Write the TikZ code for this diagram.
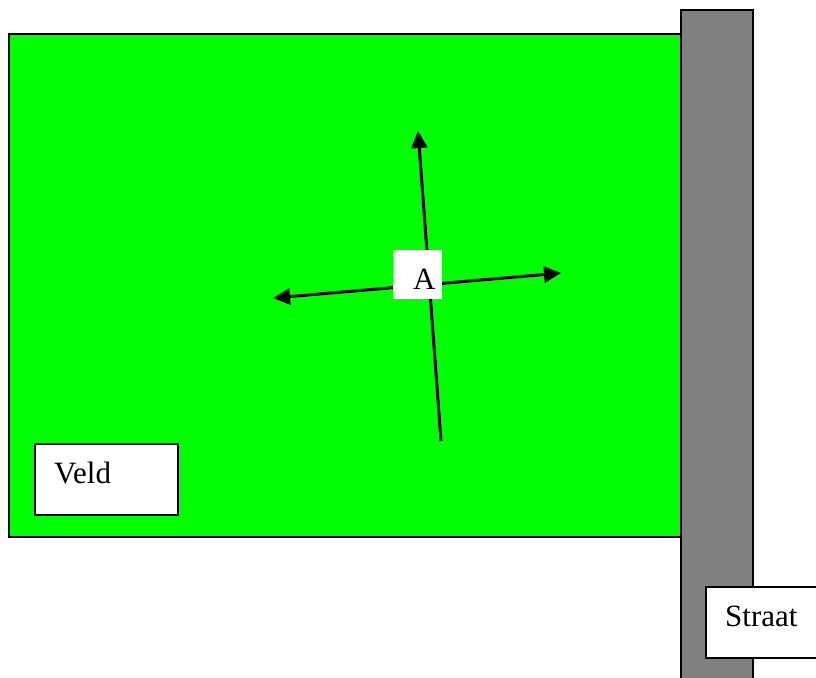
\documentclass[tikz,border=0pt]{standalone}
\usepackage{fontspec}
\setmainfont{Liberation Serif}
\usetikzlibrary{arrows.meta}
\definecolor{fieldgreen}{HTML}{00FF00}
\definecolor{roadgray}{HTML}{808080}
\begin{document}
\begin{tikzpicture}[x=1pt,y=-1pt,
  area/.style={draw=black,line width=2.5pt},
  labelbox/.style={draw=black,line width=2pt,fill=white,anchor=north west,
    inner sep=0pt},
  labeltext/.style={anchor=base west,inner sep=0pt,font=\fontsize{31}{36}\selectfont},
  dirarrow/.style={line width=3pt,>={Triangle[length=17pt,width=16pt]}}]
\useasboundingbox (0,0) rectangle (816,677);
\clip (0,0) rectangle (816,677);
% field
\path[area,fill=fieldgreen] (9,34) rectangle (681,537);
% direction arrows through point A
\coordinate (top) at (418,131);
\coordinate (bot) at (441,441);
\coordinate (lft) at (273,298);
\coordinate (rgt) at (561,273);
\draw[dirarrow,->] (bot) -- (top);
\draw[dirarrow,<->] (lft) -- (rgt);
\node[fill=white,minimum width=49pt,minimum height=49pt,inner sep=0pt] (A) at (417.5,274.5) {};
\node[labeltext] (Atext) at (413,289) {A};
% field label
\node[labelbox,minimum width=143pt,minimum height=71pt] (veldbox) at (33.5,442.5) {};
\node[labeltext] (veld) at (54,483) {Veld};
% street
\path[area,fill=roadgray] (681,10) rectangle (753,700);
\node[labelbox,minimum width=140pt,minimum height=71pt] (straatbox) at (704.5,585.5) {};
\node[labeltext] (straat) at (725,626) {Straat};
\end{tikzpicture}
\end{document}
